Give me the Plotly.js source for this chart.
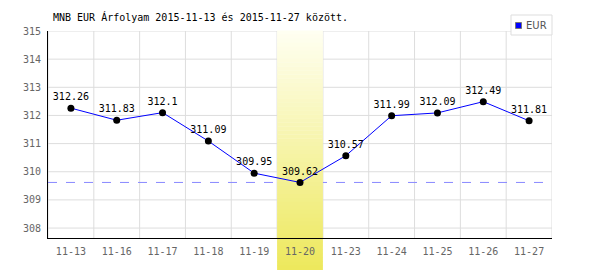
<!DOCTYPE html>
<html><head><meta charset="utf-8">
<script src="https://cdn.plot.ly/plotly-3.0.1.min.js"></script>
<style>html,body{margin:0;padding:0;background:#fff}#chart{width:600px;height:270px}</style>
</head><body><div id="chart"></div>
<script>
const titleText = 'MNB EUR Árfolyam 2015-11-13 és 2015-11-27 között.';
const seriesName = 'EUR';
const dates = ['11-13','11-16','11-17','11-18','11-19','11-20','11-23','11-24','11-25','11-26','11-27'];
const rates = [312.26, 311.83, 312.1, 311.09, 309.95, 309.62, 310.57, 311.99, 312.09, 312.49, 311.81];
const yTicks = [308, 309, 310, 311, 312, 313, 314, 315];
const highlightDate = '11-20';

// layout geometry (pixels)
const W = 600, H = 270, L = 48, R = 48, T = 31, B = 32;
const plotH = H - T - B, plotW = W - L - R;
const py2paper = py => (H - B - py) / plotH;
const px2paper = px => (px - L) / plotW;

const minRate = Math.min(...rates);
const hIdx = dates.indexOf(highlightDate);
const gridColor = '#dddddd';

const shapes = [];
// horizontal grid lines
yTicks.forEach(v => shapes.push({type:'line', xref:'paper', yref:'y', x0:0, x1:1, y0:v, y1:v,
  line:{color:gridColor, width:1}, layer:'below'}));
// vertical grid lines at category boundaries
for (let i = 0; i <= dates.length; i++) {
  shapes.push({type:'line', xref:'x', yref:'paper', x0:i-0.5, x1:i-0.5, y0:0, y1:1,
    line:{color:gridColor, width:1}, layer:'below'});
}
// dashed line at the minimum
shapes.push({type:'line', xref:'paper', yref:'y', x0:0, x1:1, y0:minRate, y1:minRate,
  line:{color:'#8888ff', width:1, dash:'dash'}, layer:'below'});
// gradient highlight band
const topPx = T, botPx = H, N = 60;
const c0 = [255,255,242], c1 = [237,232,92];
for (let k = 0; k < N; k++) {
  const a = topPx + (botPx - topPx) * k / N, b = topPx + (botPx - topPx) * (k + 1) / N;
  const t = (k + 0.5) / N;
  const col = 'rgb(' + c0.map((v,i)=>Math.round(v + (c1[i]-v)*t)).join(',') + ')';
  shapes.push({type:'rect', xref:'x', yref:'paper',
    x0:hIdx-0.5, x1:hIdx+0.5, y0:py2paper(b), y1:py2paper(a) + 0.002,
    fillcolor:col, line:{width:0}, layer:'below'});
}
// legend box
shapes.push({type:'rect', xref:'paper', yref:'paper', x0:px2paper(511), x1:px2paper(552),
  y0:py2paper(35), y1:py2paper(15), fillcolor:'#fff', line:{color:'#dddddd', width:1}, layer:'above'});
shapes.push({type:'rect', xref:'paper', yref:'paper', x0:px2paper(515.5), x1:px2paper(521.5),
  y0:py2paper(28.5), y1:py2paper(22.5), fillcolor:'#0000ff', line:{color:'#777', width:1}, layer:'above'});

const trace = {
  x: dates, y: rates, type:'scatter', mode:'lines+markers+text',
  text: rates.map(String), textposition:'top center',
  textfont:{family:'DejaVu Sans Mono, monospace', size:10, color:'#000'},
  line:{color:'#0000ff', width:1},
  marker:{color:'#000', size:7},
  name: seriesName, showlegend:false, cliponaxis:false, hoverinfo:'skip'
};

const layout = {
  width:W, height:H, margin:{l:L, r:R, t:T, b:B, pad:0},
  paper_bgcolor:'#fff', plot_bgcolor:'rgba(0,0,0,0)', showlegend:false,
  title:{text:titleText, x:53/W, xanchor:'left', xref:'container', y:1-17/H, yanchor:'middle', yref:'container',
    font:{family:'DejaVu Sans Mono, monospace', size:10, color:'#000'}},
  xaxis:{type:'category', range:[-0.5, dates.length-0.5], ticks:'', showgrid:false,
    showline:true, linecolor:'#000', linewidth:1, mirror:false,
    tickfont:{family:'DejaVu Sans Mono, monospace', size:10, color:'#666'}, ticklabelstandoff:4, fixedrange:true, zeroline:false},
  yaxis:{range:[315 - plotH/28.15, 315], tickvals:yTicks, ticktext:yTicks.map(String), ticks:'', showgrid:false,
    showline:true, linecolor:'#000', linewidth:1, zeroline:false,
    tickfont:{family:'DejaVu Sans Mono, monospace', size:10, color:'#666'}, ticklabelstandoff:4, fixedrange:true},
  shapes: shapes,
  annotations:[{xref:'paper', yref:'paper', x:px2paper(524), y:py2paper(25.5), xanchor:'left', yanchor:'middle',
    text:seriesName, showarrow:false, font:{family:'DejaVu Sans, sans-serif', size:10, color:'#555'}}]
};
Plotly.newPlot('chart', [trace], layout, {displayModeBar:false, staticPlot:true});
</script></body></html>
